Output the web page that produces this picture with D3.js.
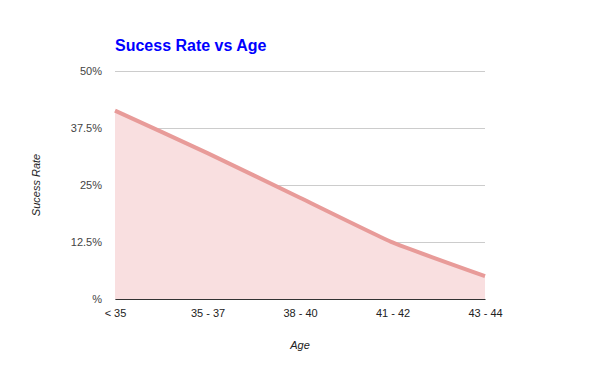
<!DOCTYPE html>
<html>
<head>
<meta charset="utf-8">
<script src="https://cdn.jsdelivr.net/npm/d3@7"></script>
<style>
  body { margin: 0; background: #fff; }
  text { font-family: Arial, "Liberation Sans", sans-serif; }
</style>
</head>
<body>
<script>
// success rate by age group
var ages = ["< 35", "35 - 37", "38 - 40", "41 - 42", "43 - 44"];
var rates = [41.3, 32.0, 22.2, 12.4, 5.0];
var yTicks = [0, 12.5, 25, 37.5, 50];

var width = 600, height = 371;
// plot box (note: "top" is taken by window.top, so prefix them)
var plotLeft = 115, plotRight = 485, plotTop = 71, plotBottom = 299;

var svg = d3.select("body").append("svg")
  .attr("width", width)
  .attr("height", height);

var x = d3.scalePoint().domain(ages).range([plotLeft, plotRight]);
var y = d3.scaleLinear().domain([0, 50]).range([plotBottom, plotTop]);

// gridlines + y labels
var yAxis = d3.axisLeft(y)
  .tickValues(yTicks)
  .tickSize(-(plotRight - plotLeft))
  .tickPadding(13)
  .tickFormat(function (d) { return d === 0 ? "%" : d + "%"; });

var gy = svg.append("g")
  .attr("transform", "translate(" + plotLeft + ",0)")
  .call(yAxis);
gy.select(".domain").remove();
gy.selectAll(".tick line").attr("stroke", "#cccccc");
gy.selectAll(".tick text")
  .attr("fill", "#444")
  .style("font-size", "11px");

var pts = ages.map(function (a, i) { return [x(a), y(rates[i])]; });

// tighter smoothing than monotone, the reference only rounds the bends a bit
var curve = d3.curveCardinal.tension(0.6);

var area = d3.area()
  .x(function (d) { return d[0]; })
  .y0(plotBottom)
  .y1(function (d) { return d[1]; })
  .curve(curve);

var line = d3.line()
  .x(function (d) { return d[0]; })
  .y(function (d) { return d[1]; })
  .curve(curve);

svg.append("path")
  .attr("d", area(pts))
  .attr("fill", "#f9dfe0");

svg.append("path")
  .attr("d", line(pts))
  .attr("fill", "none")
  .attr("stroke", "#e89b99")
  .attr("stroke-width", 4)
  .attr("stroke-linejoin", "round");

// x axis
var xAxis = d3.axisBottom(x).tickSize(0).tickPadding(10);
var gx = svg.append("g")
  .attr("transform", "translate(0," + plotBottom + ")")
  .call(xAxis);
gx.select(".domain").attr("stroke", "#333").attr("stroke-width", 1.2);
gx.selectAll(".tick text")
  .attr("fill", "#222")
  .style("font-size", "11px");

// title
svg.append("text")
  .attr("x", 115)
  .attr("y", 51)
  .attr("fill", "#0000ff")
  .style("font-size", "16px")
  .style("font-weight", "bold")
  .text("Sucess Rate vs Age");

// axis titles
svg.append("text")
  .attr("x", 300)
  .attr("y", 349)
  .attr("text-anchor", "middle")
  .attr("fill", "#222")
  .style("font-size", "11px")
  .style("font-style", "italic")
  .text("Age");

svg.append("text")
  .attr("transform", "translate(40,185) rotate(-90)")
  .attr("text-anchor", "middle")
  .attr("fill", "#222")
  .style("font-size", "11px")
  .style("font-style", "italic")
  .text("Sucess Rate");
</script>
</body>
</html>
